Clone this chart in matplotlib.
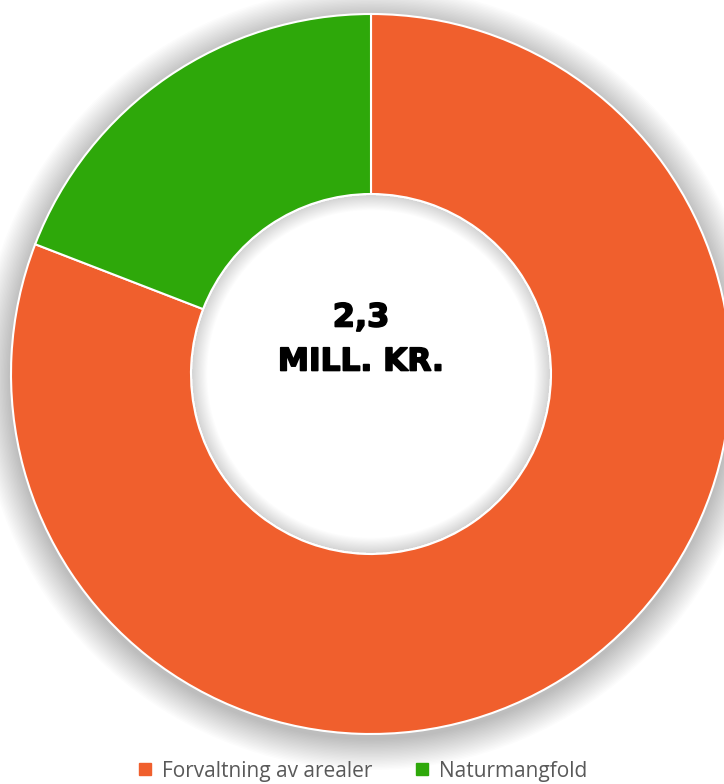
import matplotlib
matplotlib.use("Agg")
import matplotlib.pyplot as plt
import matplotlib.patheffects as pe
from matplotlib.patches import Circle, Wedge
from matplotlib.lines import Line2D
import numpy as np

categories = ["Forvaltning av arealer", "Naturmangfold"]
values = [1.86, 0.44]
colors = ["#F05F2D", "#2EA80A"]
center_value = "2,3"
center_unit = "MILL. KR."

W, H = 724, 784
fig = plt.figure(figsize=(W / 100, H / 100), dpi=100)
ax = fig.add_axes([0, 0, 1, 1])
cx, cy, R = 371, 374, 360

# soft shadow around outer ring
n = 22
for i in range(n):
    r = 1.0 + 0.004 * (n - i)
    ax.add_patch(Circle((0, -0.012), r, color="#000000", alpha=0.01, lw=0, zorder=0))
# clear the hole
ax.add_patch(Circle((0, 0), 0.5, color="white", lw=0, zorder=0.5))

ax.pie(values, colors=colors, startangle=90, counterclock=False, radius=1.0,
       wedgeprops=dict(width=0.5, edgecolor="white", linewidth=1.5),
       center=(0, 0), frame=True)
ax.set_xlim(-cx / R, (W - cx) / R)
ax.set_ylim(-(H - cy) / R, cy / R)
ax.set_aspect("auto")
ax.axis("off")

# inner shadow inside the hole
m = 14
for i in range(m):
    w = 0.003 * (i + 1)
    ax.add_patch(Wedge((0, 0), 0.497, 0, 360, width=w, color="#000000",
                       alpha=0.01, lw=0, zorder=0.6))

effects = [pe.withStroke(linewidth=1.2, foreground="black")]
tx = -10 / R
ax.text(tx, (374 - 318) / R, center_value, ha="center", va="center", fontsize=23,
        fontweight="heavy", family="DejaVu Sans", color="black", zorder=10,
        path_effects=effects)
ax.text(tx, (374 - 362) / R, center_unit, ha="center", va="center", fontsize=22.5,
        fontweight="heavy", family="DejaVu Sans", color="black", zorder=10,
        path_effects=effects)

handles = [Line2D([], [], marker="s", linestyle="none", markersize=9,
                  markerfacecolor=c, markeredgecolor=c) for c in colors]
fig.legend(handles, categories, loc="center", bbox_to_anchor=(0.5, 1 - 771 / H),
           ncol=2, frameon=False, prop={"family": "Open Sans", "size": 15},
           handlelength=0.8, handletextpad=0.4, columnspacing=2.0, labelcolor="#595959")

fig.savefig("out.png", dpi=100, facecolor="white")
